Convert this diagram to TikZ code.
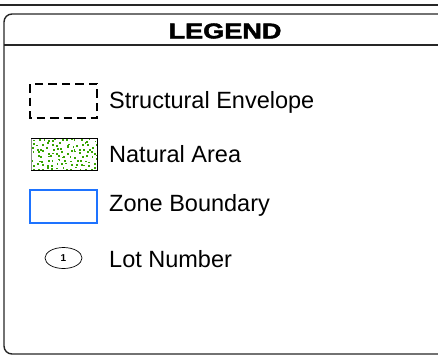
\documentclass[tikz,border=0pt]{standalone}
\usepackage{fontspec}
\setmainfont{Liberation Sans}
\newfontfamily\titlefont{Liberation Sans Bold}[FakeBold=2]
\usetikzlibrary{shapes.geometric}
\definecolor{natgreen}{RGB}{55,165,0}
\definecolor{zoneblue}{RGB}{30,115,255}
\newcommand{\sx}{30}
\newcommand{\sw}{67}
\newcommand{\tx}{109}

\begin{document}
\begin{tikzpicture}[x=1pt,y=-1pt,
  frame/.style={line width=1.4pt,draw=black!85},
  item/.style={anchor=base west,inner sep=0pt,font=\fontsize{23.5}{28}\selectfont}]
\clip (0,0) rectangle (438,360);
\coordinate (tl) at (0,5);
\coordinate (tr) at (438,5);
\coordinate (hl) at (4,45);
\coordinate (hr) at (438,45);
\draw[frame] (tl) -- (tr);
\draw[frame,rounded corners=8pt] (4,14) rectangle (446,354);
\draw[frame] (hl) -- (hr);
\node[font=\titlefont\fontsize{21.5}{24}\selectfont] (title) at (225,31) {\scalebox{1.26}[1]{LEGEND}};

% symbols
\draw[line width=2.4pt,dash pattern=on 8.5pt off 5pt] (\sx,84) rectangle (\sx+\sw,118);
\begin{scope}
\clip (31,138) rectangle (97,170);
\pgfmathsetseed{11}
\foreach \c in {0,...,13}{
  \foreach \r in {0,...,7}{
    \pgfmathsetmacro{\dx}{32+4.8*\c+2.2*rand}
    \pgfmathsetmacro{\dy}{139.5+4.1*\r+1.6*rand}
    \fill[natgreen] (\dx,\dy) rectangle ++(1.8,1.8);
  }
}
\end{scope}
\draw[line width=1pt] (31,138) rectangle (97,170);
\draw[black!45,line width=1.6pt] (31.5,138.5) -- (31.5,169.5);
\draw[zoneblue,line width=2pt] (\sx,190) rectangle (\sx+\sw,223);
\node[ellipse,draw,line width=0.7pt,minimum width=37pt,minimum height=21pt,inner sep=0pt,
  font=\bfseries\fontsize{10}{11}\selectfont] (lot) at (63.5,258) {1};

% labels
\node[item] (env) at (\tx,108) {Structural Envelope};
\node[item] (nat) at (\tx,162) {Natural Area};
\node[item] (zone) at (\tx,211) {Zone Boundary};
\node[item] (lotn) at (\tx,267) {Lot Number};
\end{tikzpicture}
\end{document}
